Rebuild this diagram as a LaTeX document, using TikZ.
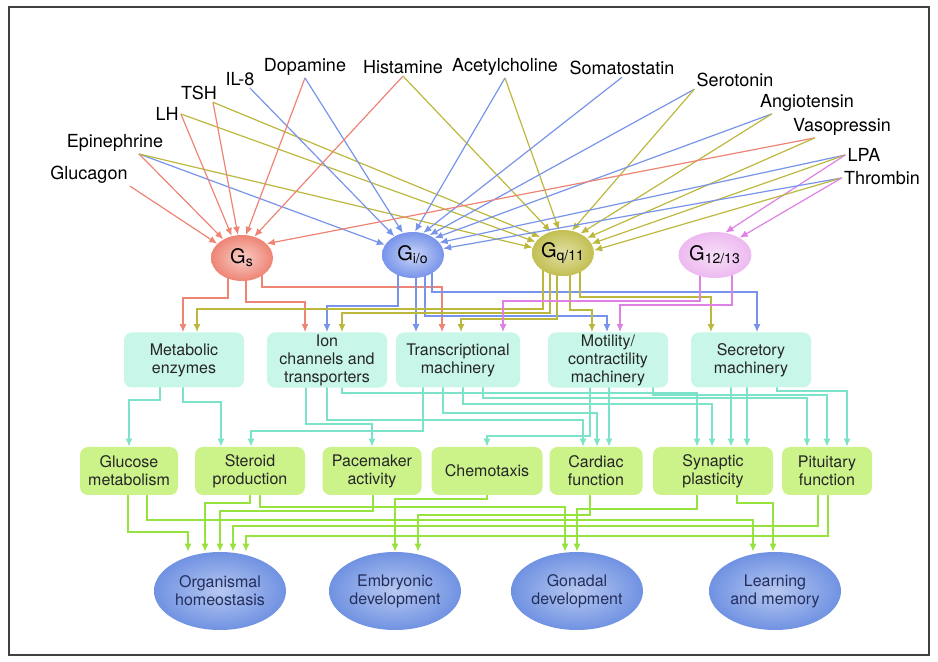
\documentclass[tikz,border=0pt]{standalone}
\usepackage{fontspec}
\setmainfont{TeX Gyre Heros}
\usetikzlibrary{arrows.meta,backgrounds,shapes.geometric}
\definecolor{gsred}{RGB}{238,132,116}
\definecolor{giblue}{RGB}{120,148,234}
\definecolor{gqolive}{RGB}{188,184,62}
\definecolor{gpink}{RGB}{222,128,228}
\definecolor{effteal}{RGB}{124,226,202}
\definecolor{effgreen}{RGB}{150,226,62}
\definecolor{midbox}{RGB}{200,246,232}
\definecolor{lowbox}{RGB}{204,242,138}
\definecolor{outblue}{RGB}{112,146,226}
\definecolor{outtext}{RGB}{36,46,92}

\begin{document}
\begin{tikzpicture}[x=0.5pt,y=-0.5pt,>={Latex[length=4pt,width=3.5pt]},
  ligand/.style={inner sep=1pt,font=\fontsize{9}{10}\selectfont},
  gprot/.style={ellipse,minimum width=31pt,minimum height=23pt,inner sep=0pt,font=\fontsize{10}{11}\selectfont},
  effector/.style={rounded corners=4pt,fill=midbox,minimum width=60pt,minimum height=27.5pt,inner sep=1pt,align=center,text=black!85,font=\fontsize{8}{9}\selectfont},
  process/.style={rounded corners=4pt,fill=lowbox,minimum height=24pt,inner sep=1pt,align=center,text=black!85,font=\fontsize{8}{9}\selectfont},
  outcome/.style={ellipse,inner color=outblue!50,outer color=outblue,minimum width=66pt,minimum height=39pt,inner sep=0pt,align=center,text=outtext,font=\fontsize{8}{9}\selectfont},
  sline/.style={->,gsred,line width=0.6pt},
  iline/.style={->,giblue,line width=0.6pt},
  qline/.style={->,gqolive,line width=0.6pt},
  pline/.style={->,gpink,line width=0.6pt},
  eline/.style={->,effteal,line width=0.6pt},
  oline/.style={->,effgreen,line width=0.6pt}]
\useasboundingbox (0,0) rectangle (938,662);
\draw[black!75,line width=0.8pt] (9,7) rectangle (929,655);

\node[ligand] (Glucagon) at (89,175) {Glucagon};
\node[ligand] (Epinephrine) at (115,143) {Epinephrine};
\node[ligand] (LH) at (167,114) {LH};
\node[ligand] (TSH) at (199,93) {TSH};
\node[ligand] (IL8) at (240,79) {IL-8};
\node[ligand] (Dopamine) at (305,67) {Dopamine};
\node[ligand] (Histamine) at (403,67) {Histamine};
\node[ligand] (Ach) at (505,67) {Acetylcholine};
\node[ligand] (Soma) at (622,68) {Somatostatin};
\node[ligand] (Serotonin) at (735,80) {Serotonin};
\node[ligand] (Angio) at (807,103) {Angiotensin};
\node[ligand] (Vaso) at (842,127) {Vasopressin};
\node[ligand] (LPA) at (864,155) {LPA};
\node[ligand] (Thrombin) at (882,178) {Thrombin};

\node[gprot,inner color=gsred!40,outer color=gsred] (Gs) at (242,258) {G\textsubscript{s}};
\node[gprot,inner color=giblue!40,outer color=giblue] (Gi) at (413,255) {G\textsubscript{i/o}};
\node[gprot,inner color=gqolive!45,outer color=gqolive!90] (Gq) at (563,253) {G\textsubscript{q/11}};
\node[gprot,inner color=gpink!25,outer color=gpink!55] (G12) at (715,255) {G\textsubscript{12/13}};

\node[effector] (Meta) at (184,360) {Metabolic\\enzymes};
\node[effector] (Ion) at (327,360) {Ion\\channels and\\transporters};
\node[effector,minimum width=62pt] (Trans) at (458,360) {Transcriptional\\machinery};
\node[effector] (Mot) at (608,360) {Motility/\\contractility\\machinery};
\node[effector] (Sec) at (751,360) {Secretory\\machinery};

\node[process,minimum width=49pt] (Glu) at (129,471) {Glucose\\metabolism};
\node[process,minimum width=55pt] (Ster) at (250,471) {Steroid\\production};
\node[process,minimum width=49.5pt] (Pace) at (372,471) {Pacemaker\\activity};
\node[process,minimum width=55.5pt] (Chemo) at (487,471) {Chemotaxis};
\node[process,minimum width=46.5pt] (Card) at (596,471) {Cardiac\\function};
\node[process,minimum width=60pt] (Syn) at (713,471) {Synaptic\\plasticity};
\node[process,minimum width=45pt] (Pit) at (827,471) {Pituitary\\function};

\node[outcome] (Org) at (220,591) {Organismal\\homeostasis};
\node[outcome] (Emb) at (395,591) {Embryonic\\development};
\node[outcome] (Gon) at (577,591) {Gonadal\\development};
\node[outcome] (Learn) at (775,591) {Learning\\and memory};

\begin{scope}[on background layer]
\draw[sline] (Glucagon.south east) -- (Gs.150);
\draw[sline] ([xshift=12pt]Epinephrine.south) -- (Gs.135);
\draw[iline] ([xshift=12pt]Epinephrine.south) -- (Gi.160);
\draw[qline] ([xshift=12pt]Epinephrine.south) -- (Gq.170);
\draw[sline] (LH.east) -- (Gs.115);
\draw[qline] (LH.east) -- (Gq.158);
\draw[sline] ([xshift=7pt]TSH.south) -- (Gs.100);
\draw[qline] ([xshift=7pt]TSH.south) -- (Gq.145);
\draw[iline] ([xshift=5pt]IL8.south) -- (Gi.135);
\draw[sline] (Dopamine.south) -- (Gs.80);
\draw[iline] (Dopamine.south) -- (Gi.115);
\draw[sline] (Histamine.south) -- (Gs.60);
\draw[qline] (Histamine.south) -- (Gq.120);
\draw[iline] (Ach.south) -- (Gi.85);
\draw[qline] (Ach.south) -- (Gq.100);
\draw[iline] (Soma.south) -- (Gi.65);
\draw[iline] (Serotonin.south west) -- (Gi.50);
\draw[qline] (Serotonin.south west) -- (Gq.68);
\draw[iline] ([xshift=7pt]Angio.south west) -- (Gi.38);
\draw[qline] ([xshift=7pt]Angio.south west) -- (Gq.48);
\draw[sline] ([xshift=12pt]Vaso.south west) -- (Gs.30);
\draw[qline] ([xshift=12pt]Vaso.south west) -- (Gq.32);
\draw[iline] (LPA.west) -- (Gi.25);
\draw[qline] (LPA.west) -- (Gq.18);
\draw[pline] (LPA.west) -- (G12.65);
\draw[iline] (Thrombin.west) -- (Gi.12);
\draw[qline] (Thrombin.west) -- (Gq.5);
\draw[pline] (Thrombin.west) -- (G12.35);

\draw[sline] (228,0 |- Gs) |- (183,298) -- (183,0 |- Meta.north);
\draw[sline] (246,0 |- Gs) |- (305,302) -- (305,0 |- Ion.north);
\draw[sline] (262,0 |- Gs) |- (442,287) -- (442,0 |- Trans.north);
\draw[iline] (398,0 |- Gi) |- (327,306) -- (327,0 |- Ion.north);
\draw[iline] (416,0 |- Gi) -- (416,0 |- Trans.north);
\draw[iline] (425,0 |- Gi) |- (607,316) -- (607,0 |- Mot.north);
\draw[iline] (432,0 |- Gi) |- (757,292) -- (757,0 |- Sec.north);
\draw[qline] (543,0 |- Gq) |- (197,309) -- (197,0 |- Meta.north);
\draw[qline] (550,0 |- Gq) |- (342,313) -- (342,0 |- Ion.north);
\draw[qline] (557,0 |- Gq) |- (461,319) -- (461,0 |- Trans.north);
\draw[qline] (570,0 |- Gq) |- (592,310) -- (592,0 |- Mot.north);
\draw[qline] (580,0 |- Gq) |- (711,297) -- (711,0 |- Sec.north);
\draw[pline] (700,0 |- G12) |- (503,301) -- (503,0 |- Trans.north);
\draw[pline] (732,0 |- G12) |- (620,305) -- (620,0 |- Mot.north);

\draw[eline] (160,0 |- Meta) |- (129,400) -- (129,0 |- Glu.north);
\draw[eline] (183,0 |- Meta) |- (221,402) -- (221,0 |- Ster.north);
\draw[eline] (306,0 |- Ion) |- (372,424) -- (372,0 |- Pace.north);
\draw[eline] (327,0 |- Ion) |- (583,420) -- (583,0 |- Card.north);
\draw[eline] (342,0 |- Ion) |- (697,393) -- (697,0 |- Syn.north);
\draw[eline] (423,0 |- Trans) |- (251,431) -- (251,0 |- Ster.north);
\draw[eline] (443,0 |- Trans) |- (597,413) -- (597,0 |- Card.north);
\draw[eline] (463,0 |- Trans) |- (712,404) -- (712,0 |- Syn.north);
\draw[eline] (483,0 |- Trans) |- (807,398) -- (807,0 |- Pit.north);
\draw[eline] (590,0 |- Mot) |- (487,436) -- (487,0 |- Chemo.north);
\draw[eline] (609,0 |- Mot) -- (609,0 |- Card.north);
\draw[eline] (653,0 |- Mot) |- (827,395) -- (827,0 |- Pit.north);
\draw[eline] (731,0 |- Sec) -- (731,0 |- Syn.north);
\draw[eline] (747,0 |- Sec) -- (747,0 |- Syn.north);
\draw[eline] (777,0 |- Sec) |- (847,391) -- (847,0 |- Pit.north);

\draw[oline] (128,0 |- Glu) |- (188,532) -- (188,0 |- Org.north);
\draw[oline] (147,0 |- Glu) |- (753,520) -- (753,0 |- Learn.north);
\draw[oline] (250,0 |- Ster) |- (205,503) -- (205,0 |- Org.north);
\draw[oline] (260,0 |- Ster) |- (565,507) -- (565,0 |- Gon.north);
\draw[oline] (373,0 |- Pace) |- (220,511) -- (220,0 |- Org.north);
\draw[oline] (487,0 |- Chemo) |- (395,499) -- (395,0 |- Emb.north);
\draw[oline] (590,0 |- Card) |- (418,515) -- (418,0 |- Emb.north);
\draw[oline] (697,0 |- Syn) |- (577,509) -- (577,0 |- Gon.north);
\draw[oline] (737,0 |- Syn) |- (773,503) -- (773,0 |- Learn.north);
\draw[oline] (818,0 |- Pit) |- (233,526) -- (233,0 |- Org.north);
\draw[oline] (828,0 |- Pit) |- (246,536) -- (246,0 |- Org.north);
\end{scope}
\end{tikzpicture}
\end{document}
